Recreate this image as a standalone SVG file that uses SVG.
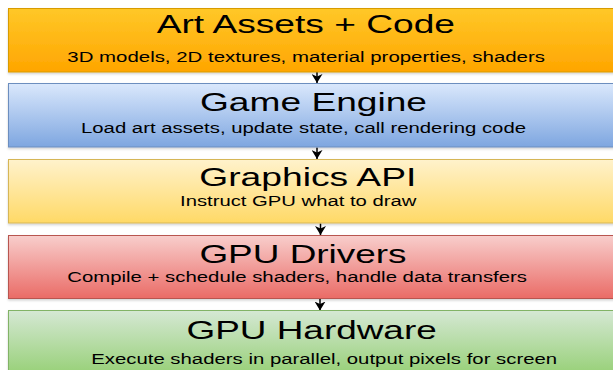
<svg xmlns="http://www.w3.org/2000/svg" width="613" height="370" viewBox="0 0 613 370">
<style>
.t{font-family:"Liberation Sans",Arial,sans-serif;font-size:26.5px;fill:#000}
.s{font-family:"Liberation Sans",Arial,sans-serif;font-size:14px;fill:#000}
.box{stroke-width:1;filter:url(#sh)}
.conn{stroke:#000;stroke-width:1.5;fill:none}
</style>
<defs>
<filter id="sh" x="-5%" y="-10%" width="110%" height="130%">
<feDropShadow dx="0" dy="1.5" stdDeviation="0.8" flood-color="#000" flood-opacity="0.18"/>
</filter>
<linearGradient id="g1" x1="0" y1="0" x2="0" y2="1"><stop offset="0" stop-color="#ffc828"/><stop offset="1" stop-color="#ffa500"/></linearGradient>
<linearGradient id="g2" x1="0" y1="0" x2="0" y2="1"><stop offset="0" stop-color="#dae8fc"/><stop offset="1" stop-color="#7ea6e0"/></linearGradient>
<linearGradient id="g3" x1="0" y1="0" x2="0" y2="1"><stop offset="0" stop-color="#fff2cc"/><stop offset="1" stop-color="#ffd966"/></linearGradient>
<linearGradient id="g4" x1="0" y1="0" x2="0" y2="1"><stop offset="0" stop-color="#f8cecc"/><stop offset="1" stop-color="#ea6b66"/></linearGradient>
<linearGradient id="g5" x1="0" y1="0" x2="0" y2="1"><stop offset="0" stop-color="#d5e8d4"/><stop offset="0.8" stop-color="#97d077"/><stop offset="1" stop-color="#97d077"/></linearGradient>
<marker id="arr" viewBox="0 0 9 11" refX="9" refY="5.5" markerWidth="9" markerHeight="11" markerUnits="userSpaceOnUse" orient="auto">
<path d="M0,0 L9,5.5 L0,11 L2.5,5.5 Z" fill="#000"/>
</marker>
</defs>

<g id="connectors">
<line class="conn" x1="317" y1="72" x2="317" y2="83" marker-end="url(#arr)"/>
<line class="conn" x1="317" y1="147.5" x2="317" y2="159" marker-end="url(#arr)"/>
<line class="conn" x1="320.5" y1="223.5" x2="320.5" y2="235" marker-end="url(#arr)"/>
<line class="conn" x1="320" y1="299" x2="320" y2="310.5" marker-end="url(#arr)"/>
</g>

<g id="art-assets">
<rect class="box" x="8.5" y="8.5" width="620" height="63.5" fill="url(#g1)" stroke="#d79b00"/>
<text class="t" x="156.7" y="33.3" textLength="298.3" lengthAdjust="spacingAndGlyphs">Art Assets + Code</text>
<text class="s" x="67.3" y="61.5" textLength="477.7" lengthAdjust="spacingAndGlyphs">3D models, 2D textures, material properties, shaders</text>
</g>

<g id="game-engine">
<rect class="box" x="8.5" y="83.5" width="620" height="63.5" fill="url(#g2)" stroke="#6c8ebf"/>
<text class="t" x="200" y="110.7" textLength="227" lengthAdjust="spacingAndGlyphs">Game Engine</text>
<text class="s" x="81" y="133.3" textLength="445" lengthAdjust="spacingAndGlyphs">Load art assets, update state, call rendering code</text>
</g>

<g id="graphics-api">
<rect class="box" x="8.5" y="159.5" width="620" height="63.5" fill="url(#g3)" stroke="#d6b656"/>
<text class="t" x="199.3" y="186" textLength="217" lengthAdjust="spacingAndGlyphs">Graphics API</text>
<text class="s" x="180" y="206" textLength="236.4" lengthAdjust="spacingAndGlyphs">Instruct GPU what to draw</text>
</g>

<g id="gpu-drivers">
<rect class="box" x="8.5" y="235.5" width="620" height="63" fill="url(#g4)" stroke="#b85450"/>
<text class="t" x="199.4" y="263.3" textLength="207.2" lengthAdjust="spacingAndGlyphs">GPU Drivers</text>
<text class="s" x="67.3" y="281.7" textLength="459.7" lengthAdjust="spacingAndGlyphs">Compile + schedule shaders, handle data transfers</text>
</g>

<g id="gpu-hardware">
<rect class="box" x="8.5" y="310.5" width="620" height="80" fill="url(#g5)" stroke="#82b366"/>
<text class="t" x="186.5" y="339.3" textLength="250.2" lengthAdjust="spacingAndGlyphs">GPU Hardware</text>
<text class="s" x="91.2" y="363.5" textLength="466" lengthAdjust="spacingAndGlyphs">Execute shaders in parallel, output pixels for screen</text>
</g>
</svg>
